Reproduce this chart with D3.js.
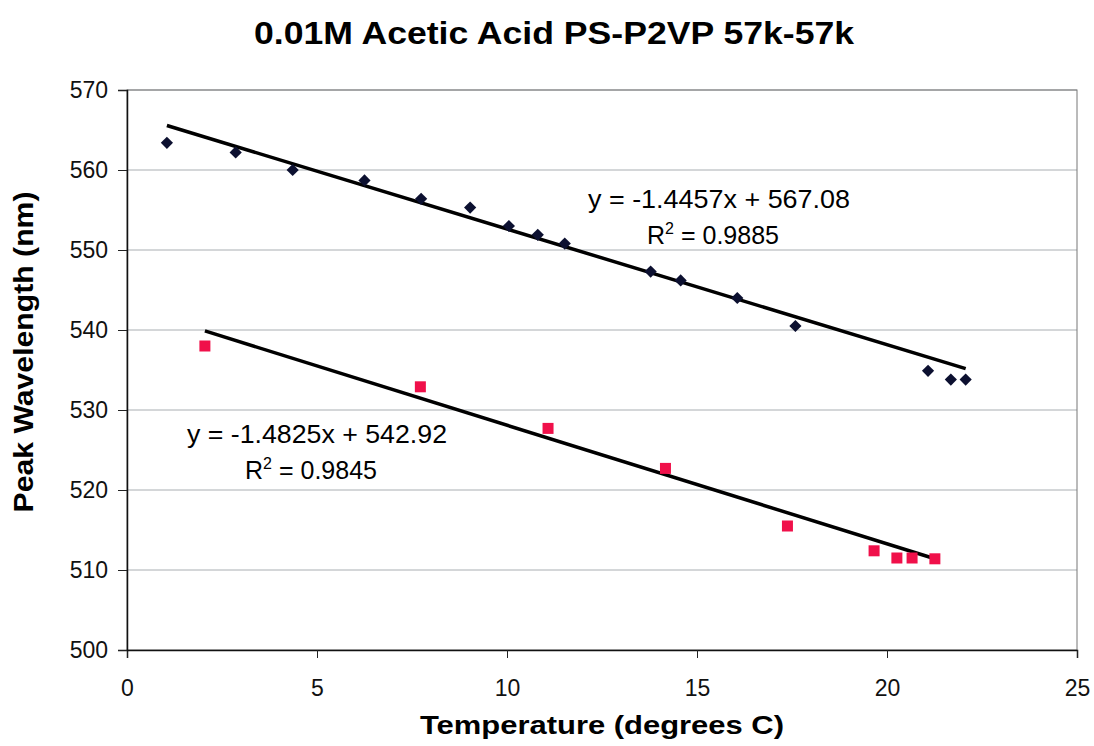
<!DOCTYPE html>
<html lang="en">
<head>
<meta charset="UTF-8">
<title>0.01M Acetic Acid PS-P2VP 57k-57k</title>
<script src="https://d3js.org/d3.v7.min.js"></script>
<style>
  html, body { margin: 0; background: #fff; overflow: hidden; }
  text { font-family: "Liberation Sans", Arial, sans-serif; }
</style>
</head>
<body>
<svg id="chart"></svg>
<script>
// data
const blackTemp = [1.05, 2.86, 4.36, 6.25, 7.74, 9.03, 10.05, 10.81, 11.52, 13.78, 14.57, 16.06, 17.59, 21.08, 21.68, 22.07];
const blackPeak = [563.4, 562.2, 560.0, 558.7, 556.4, 555.3, 553.0, 551.9, 550.8, 547.3, 546.2, 544.0, 540.5, 534.9, 533.8, 533.8];
const redTemp = [2.05, 7.72, 11.08, 14.17, 17.38, 19.66, 20.26, 20.66, 21.26];
const redPeak = [538.0, 532.9, 527.7, 522.7, 515.5, 512.4, 511.5, 511.5, 511.4];
const blackFit = { slope: -1.4457, icept: 567.08, r2: "0.9885" };
const redFit = { slope: -1.4825, icept: 542.92, r2: "0.9845" };
const xTicks = [0, 5, 10, 15, 20, 25];
const yTicks = [500, 510, 520, 530, 540, 550, 560, 570];

const W = 1094, H = 746;
const margin = { top: 90, left: 127, right: 17, bottom: 96 };
const svg = d3.select('#chart').attr('width', W).attr('height', H);

const x = d3.scaleLinear().domain([0, 25]).range([margin.left, W - margin.right]);
const y = d3.scaleLinear().domain([500, 570]).range([H - margin.bottom, margin.top]);

// gridlines
svg.append('g').selectAll('line').data(yTicks.slice(1)).join('line')
  .attr('x1', x(0)).attr('x2', x(25))
  .attr('y1', d => y(d)).attr('y2', d => y(d))
  .attr('stroke', '#a9aeb2').attr('stroke-width', 1);

// plot frame (top / right)
svg.append('rect')
  .attr('x', x(0)).attr('y', y(570))
  .attr('width', x(25) - x(0)).attr('height', y(500) - y(570))
  .attr('fill', 'none').attr('stroke', '#777').attr('stroke-width', 1);

// axes
const xAxis = svg.append('g').attr('transform', `translate(0,${y(500)})`)
  .call(d3.axisBottom(x).tickValues(xTicks).tickSize(8).tickPadding(22).tickFormat(d3.format('d')));
const yAxis = svg.append('g').attr('transform', `translate(${x(0)},0)`)
  .call(d3.axisLeft(y).tickValues(yTicks).tickSize(9).tickPadding(10).tickFormat(d3.format('d')));
[xAxis, yAxis].forEach(a => {
  a.select('.domain').attr('stroke', '#111').attr('stroke-width', 1.5);
  a.selectAll('.tick line').attr('stroke', '#222');
  a.selectAll('.tick text').attr('font-size', 23).attr('fill', '#111')
    .style('font-family', '"Liberation Sans", Arial, sans-serif');
});

// trendlines
function trend(temps, fit) {
  const x0 = d3.min(temps), x1 = d3.max(temps);
  svg.append('line')
    .attr('x1', x(x0)).attr('y1', y(fit.slope * x0 + fit.icept))
    .attr('x2', x(x1)).attr('y2', y(fit.slope * x1 + fit.icept))
    .attr('stroke', '#000').attr('stroke-width', 3.5);
}
trend(blackTemp, blackFit);
trend(redTemp, redFit);

// markers
svg.append('g').selectAll('path').data(blackTemp).join('path')
  .attr('d', d3.symbol(d3.symbolDiamond2, 95))
  .attr('transform', (d, i) => `translate(${x(d)},${y(blackPeak[i])})`)
  .attr('fill', '#0c1030');
svg.append('g').selectAll('rect').data(redTemp).join('rect')
  .attr('x', d => x(d) - 5.5)
  .attr('y', (d, i) => y(redPeak[i]) - 5.5)
  .attr('width', 11).attr('height', 11)
  .attr('fill', '#f0104a');

// equation labels
function eqLabel(cx, cy, len, fit) {
  const sign = fit.icept >= 0 ? '+' : '-';
  svg.append('text').attr('x', cx).attr('y', cy)
    .attr('text-anchor', 'middle').attr('font-size', 25)
    .attr('textLength', len).attr('lengthAdjust', 'spacingAndGlyphs')
    .text(`y = ${fit.slope}x ${sign} ${Math.abs(fit.icept)}`);
  const t = svg.append('text').attr('x', cx - 6).attr('y', cy + 36)
    .attr('text-anchor', 'middle').attr('font-size', 25);
  t.append('tspan').text('R');
  t.append('tspan').attr('dy', -10).attr('font-size', 16).text('2');
  t.append('tspan').attr('dy', 10).text(` = ${fit.r2}`);
}
eqLabel(719, 208, 262, blackFit);
eqLabel(317, 443, 260, redFit);

// titles
svg.append('text').attr('x', 554).attr('y', 44)
  .attr('text-anchor', 'middle').attr('font-size', 32).attr('font-weight', 'bold')
  .attr('textLength', 600).attr('lengthAdjust', 'spacingAndGlyphs')
  .text('0.01M Acetic Acid PS-P2VP 57k-57k');
svg.append('text').attr('x', 602).attr('y', 734)
  .attr('text-anchor', 'middle').attr('font-size', 26).attr('font-weight', 'bold')
  .attr('textLength', 364).attr('lengthAdjust', 'spacingAndGlyphs')
  .text('Temperature (degrees C)');
svg.append('text')
  .attr('transform', `translate(33,352) rotate(-90)`)
  .attr('text-anchor', 'middle').attr('font-size', 27).attr('font-weight', 'bold')
  .attr('textLength', 321).attr('lengthAdjust', 'spacingAndGlyphs')
  .text('Peak Wavelength (nm)');
</script>
</body>
</html>
